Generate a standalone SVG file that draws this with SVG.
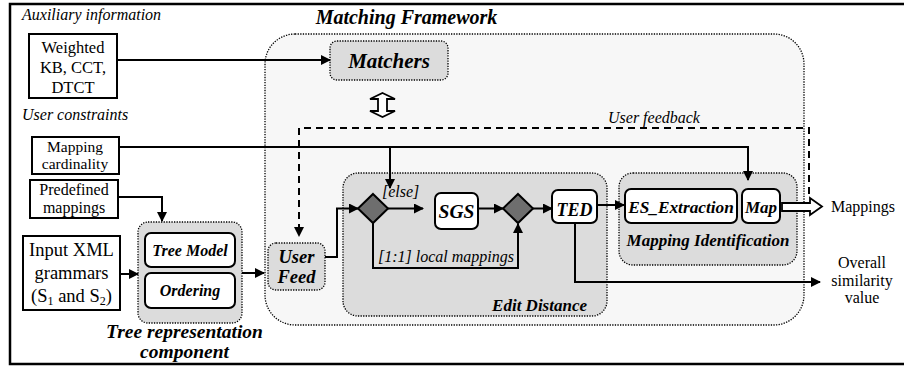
<svg xmlns="http://www.w3.org/2000/svg" width="904" height="367" viewBox="0 0 904 367">
<defs>
<marker id="ah" markerWidth="10" markerHeight="10" refX="9" refY="5" orient="auto" markerUnits="userSpaceOnUse">
<path d="M0,0 L10,5 L0,10 Z" fill="#000"/>
</marker>
<style>
.box{fill:#fff;stroke:#000;stroke-width:2}
.grp{fill:#dcdcdc;stroke:#000;stroke-width:1.3;stroke-dasharray:1.3 1.3}
.ln{fill:none;stroke:#000;stroke-width:2}
.dash{fill:none;stroke:#000;stroke-width:2;stroke-dasharray:7 5}
.dia{fill:#6e6e6e;stroke:#000;stroke-width:2}
</style>
</defs>
<rect width="904" height="367" fill="#fff"/>
<path d="M904,4 H10 V364 H904" fill="none" stroke="#000" stroke-width="2.5"/>

<text x="22" y="20" style="font-family:'Liberation Serif',serif;font-style:italic;font-size:16px">Auxiliary information</text>
<text x="22" y="120" style="font-family:'Liberation Serif',serif;font-style:italic;font-size:16px">User constraints</text>

<g id="framework">
<rect x="265" y="34" width="539" height="291" rx="30" fill="#f7f7f7" stroke="#000" stroke-width="1.3" stroke-dasharray="1.3 1.3"/>
<text x="406.5" y="24" text-anchor="middle" style="font-family:'Liberation Serif',serif;font-style:italic;font-weight:bold;font-size:20px">Matching Framework</text>
</g>

<g id="weighted">
<rect class="box" x="29" y="34" width="88" height="64"/>
<text x="73" y="53" text-anchor="middle" style="font-family:'Liberation Serif',serif;font-size:16.5px">Weighted</text>
<text x="73" y="73" text-anchor="middle" style="font-family:'Liberation Serif',serif;font-size:16.5px">KB, CCT,</text>
<text x="73" y="93" text-anchor="middle" style="font-family:'Liberation Serif',serif;font-size:16.5px">DTCT</text>
</g>

<g id="matchers">
<rect class="grp" x="330" y="41" width="118" height="39" rx="7"/>
<text x="389" y="68" text-anchor="middle" style="font-family:'Liberation Serif',serif;font-style:italic;font-weight:bold;font-size:21px">Matchers</text>
</g>

<g id="cardinality">
<rect class="box" x="32" y="137" width="87" height="37"/>
<text x="75" y="152" text-anchor="middle" style="font-family:'Liberation Serif',serif;font-size:15.5px">Mapping</text>
<text x="75" y="169" text-anchor="middle" style="font-family:'Liberation Serif',serif;font-size:15.5px">cardinality</text>
</g>

<g id="predefined">
<rect class="box" x="30" y="180" width="88" height="38"/>
<text x="74" y="195" text-anchor="middle" style="font-family:'Liberation Serif',serif;font-size:16px">Predefined</text>
<text x="74" y="213" text-anchor="middle" style="font-family:'Liberation Serif',serif;font-size:16px">mappings</text>
</g>

<g id="input">
<rect class="box" x="23" y="236" width="97" height="74"/>
<text x="71.5" y="256" text-anchor="middle" style="font-family:'Liberation Serif',serif;font-size:18.5px">Input XML</text>
<text x="71.5" y="279" text-anchor="middle" style="font-family:'Liberation Serif',serif;font-size:18.5px">grammars</text>
<text x="71.5" y="302" text-anchor="middle" style="font-family:'Liberation Serif',serif;font-size:18.5px">(S<tspan style="font-size:12px" dy="3">1</tspan><tspan dy="-3"> and S</tspan><tspan style="font-size:12px" dy="3">2</tspan><tspan dy="-3">)</tspan></text>
</g>

<g id="treerep">
<rect class="grp" x="138" y="222" width="104" height="101" rx="10"/>
<rect class="box" x="145" y="233" width="90" height="34" rx="6"/>
<text x="190" y="256" text-anchor="middle" style="font-family:'Liberation Serif',serif;font-style:italic;font-weight:bold;font-size:16px">Tree Model</text>
<rect class="box" x="145" y="273" width="90" height="35" rx="6"/>
<text x="190" y="296" text-anchor="middle" style="font-family:'Liberation Serif',serif;font-style:italic;font-weight:bold;font-size:16px">Ordering</text>
<text x="184.5" y="338" text-anchor="middle" style="font-family:'Liberation Serif',serif;font-style:italic;font-weight:bold;font-size:19.5px">Tree representation</text>
<text x="184.5" y="358" text-anchor="middle" style="font-family:'Liberation Serif',serif;font-style:italic;font-weight:bold;font-size:19.5px">component</text>
</g>

<g id="userfeed">
<rect class="grp" x="268" y="243" width="57" height="47" rx="8"/>
<text x="296.5" y="263" text-anchor="middle" style="font-family:'Liberation Serif',serif;font-style:italic;font-weight:bold;font-size:18.5px">User</text>
<text x="296.5" y="283" text-anchor="middle" style="font-family:'Liberation Serif',serif;font-style:italic;font-weight:bold;font-size:18.5px">Feed</text>
</g>

<g id="editdistance">
<rect class="grp" x="343" y="173" width="264" height="143" rx="15"/>
<text x="587" y="311" text-anchor="end" style="font-family:'Liberation Serif',serif;font-style:italic;font-weight:bold;font-size:17px">Edit Distance</text>
</g>

<g id="diamond1">
<path class="dia" d="M373,194 L388,208.5 L373,223 L358,208.5 Z"/>
</g>

<g id="sgs">
<rect class="box" x="435" y="193" width="43" height="36" rx="6"/>
<text x="456.5" y="218" text-anchor="middle" style="font-family:'Liberation Serif',serif;font-style:italic;font-weight:bold;font-size:19.5px">SGS</text>
</g>

<g id="diamond2">
<path class="dia" d="M518,194 L533,208.5 L518,223 L503,208.5 Z"/>
</g>

<g id="ted">
<rect class="box" x="552" y="190" width="45" height="33" rx="6"/>
<text x="574.5" y="216" text-anchor="middle" style="font-family:'Liberation Serif',serif;font-style:italic;font-weight:bold;font-size:18px">TED</text>
</g>

<g id="mapid">
<rect class="grp" x="619" y="173" width="178" height="92" rx="14"/>
<rect class="box" x="625" y="189" width="112" height="34" rx="6"/>
<text x="681" y="213" text-anchor="middle" style="font-family:'Liberation Serif',serif;font-style:italic;font-weight:bold;font-size:17.3px">ES_Extraction</text>
<rect class="box" x="742" y="189" width="38" height="34" rx="6"/>
<text x="761" y="213" text-anchor="middle" style="font-family:'Liberation Serif',serif;font-style:italic;font-weight:bold;font-size:17px">Map</text>
<text x="708" y="246" text-anchor="middle" style="font-family:'Liberation Serif',serif;font-style:italic;font-weight:bold;font-size:17px">Mapping Identification</text>
</g>

<g id="outputs">
<text x="831" y="212" style="font-family:'Liberation Serif',serif;font-size:16px">Mappings</text>
<text x="862" y="268" text-anchor="middle" style="font-family:'Liberation Serif',serif;font-size:16px">Overall</text>
<text x="862" y="286" text-anchor="middle" style="font-family:'Liberation Serif',serif;font-size:16px">similarity</text>
<text x="862" y="303" text-anchor="middle" style="font-family:'Liberation Serif',serif;font-size:16px">value</text>
</g>

<g id="connectors">
<path class="ln" d="M117,60 H330" marker-end="url(#ah)"/>
<path d="M382.5,93 L395,99 H387 V111 H395 L382.5,117 L370,111 H378 V99 H370 Z" fill="#fff" stroke="#000" stroke-width="1.8" stroke-linejoin="miter"/>
<path class="dash" d="M809,194 V128 H299 V236" marker-end="url(#ah)"/>
<text x="608" y="123" style="font-family:'Liberation Serif',serif;font-style:italic;font-size:16px">User feedback</text>
<path class="ln" d="M119,147 H748 V180" marker-end="url(#ah)"/>
<path class="ln" d="M390,147 V188" marker-end="url(#ah)"/>
<path class="ln" d="M118,197 H162 V221" marker-end="url(#ah)"/>
<path class="ln" d="M120,274 H138" marker-end="url(#ah)"/>
<path class="ln" d="M242,273 H264" marker-end="url(#ah)"/>
<path class="ln" d="M325,257 H337 V208.5 H358" marker-end="url(#ah)"/>
<text x="382" y="197" style="font-family:'Liberation Serif',serif;font-style:italic;font-size:16px">[else]</text>
<path class="ln" d="M388,208.5 H423" marker-end="url(#ah)"/>
<path class="ln" d="M478,208.5 H503" marker-end="url(#ah)"/>
<path class="ln" d="M373,223 V268 H518 V224" marker-end="url(#ah)"/>
<text x="378" y="262" style="font-family:'Liberation Serif',serif;font-style:italic;font-size:16px">[1:1] local mappings</text>
<path class="ln" d="M533,208.5 H552" marker-end="url(#ah)"/>
<path class="ln" d="M597,205 H624" marker-end="url(#ah)"/>
<path class="ln" d="M575,223 V282 H820" marker-end="url(#ah)"/>
<path d="M782,203 H810 V198 L822,206.5 L810,215 V211 H782 Z" fill="#fff" stroke="#000" stroke-width="1.8"/>
</g>
</svg>
